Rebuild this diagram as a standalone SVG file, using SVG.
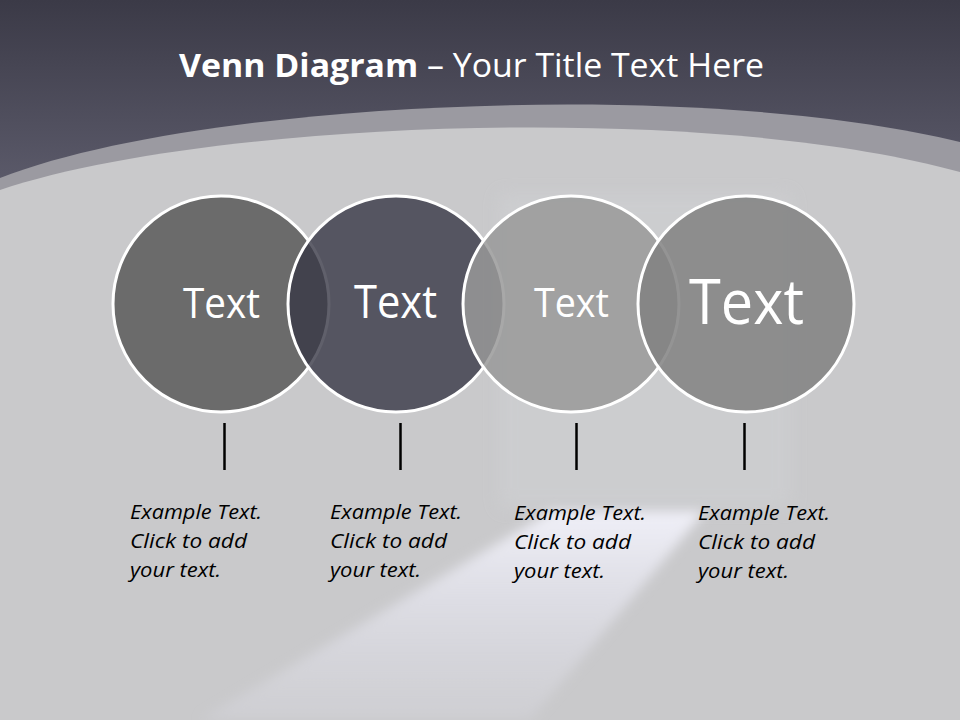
<svg xmlns="http://www.w3.org/2000/svg" width="960" height="720" viewBox="0 0 960 720">
<defs>
<linearGradient id="hdr" gradientUnits="userSpaceOnUse" x1="0" y1="0" x2="0" y2="190">
<stop offset="0" stop-color="#3b3a47"/>
<stop offset="1" stop-color="#5c5b6b"/>
</linearGradient>
<linearGradient id="beam" gradientUnits="userSpaceOnUse" x1="0" y1="510" x2="0" y2="720">
<stop offset="0" stop-color="#f0f0f8" stop-opacity="1"/>
<stop offset="0.45" stop-color="#e0e0e8" stop-opacity="0.85"/>
<stop offset="1" stop-color="#d4d4da" stop-opacity="0.5"/>
</linearGradient>
<filter id="blur" x="-20%" y="-20%" width="140%" height="140%"><feGaussianBlur stdDeviation="6"/></filter>
<filter id="blur2" x="-20%" y="-20%" width="140%" height="140%"><feGaussianBlur stdDeviation="8"/></filter>
<style>
.circ{stroke:#ffffff;stroke-width:3}
.ct{font-family:"Open Sans","Liberation Sans",sans-serif;fill:#ffffff;text-anchor:start}
.bt{font-family:"Open Sans","Liberation Sans",sans-serif;font-style:italic;font-size:20px;fill:#000000}
.stem{stroke:#000000;stroke-width:2.5}
</style>
</defs>
<g id="background">
<rect x="0" y="0" width="960" height="720" fill="url(#hdr)"/>
<path d="M0,178 C200,100 700,78 960,142 L960,720 L0,720 Z" fill="#9b9aa1"/>
<path d="M0,190 C200,122 700,100 960,172 L960,720 L0,720 Z" fill="#c9c9cb"/>
<rect x="500" y="195" width="290" height="312" fill="#cfd0d3" opacity="0.6" filter="url(#blur2)"/>
<polygon points="552,511 705,511 530,720 200,720" fill="url(#beam)" filter="url(#blur)"/>
</g>
<g id="title">
<text x="179" y="77" font-family="Open Sans, Liberation Sans, sans-serif" font-size="32" fill="#ffffff" textLength="585" lengthAdjust="spacingAndGlyphs"><tspan font-weight="bold">Venn Diagram</tspan> – Your Title Text Here</text>
</g>
<g id="node1">
<circle class="circ" cx="221" cy="304" r="108" fill="#6b6b6b"/>
<text class="ct" x="183" y="318" font-size="42" textLength="77" lengthAdjust="spacingAndGlyphs">Text</text>
</g>
<g id="node2">
<circle class="circ" cx="396" cy="304" r="108" fill="#383846" fill-opacity="0.8"/>
<text class="ct" x="354" y="318" font-size="45" textLength="83" lengthAdjust="spacingAndGlyphs">Text</text>
</g>
<g id="node3">
<circle class="circ" cx="571" cy="304" r="108" fill="#999999" fill-opacity="0.85"/>
<text class="ct" x="534" y="317" font-size="41" textLength="75" lengthAdjust="spacingAndGlyphs">Text</text>
</g>
<g id="node4">
<circle class="circ" cx="746" cy="304" r="108" fill="#818181" fill-opacity="0.85"/>
<text class="ct" x="689" y="324" font-size="62" textLength="115" lengthAdjust="spacingAndGlyphs">Text</text>
</g>
<g id="connectors">
<line class="stem" x1="224.5" y1="423" x2="224.5" y2="470"/>
<line class="stem" x1="400.5" y1="423" x2="400.5" y2="470"/>
<line class="stem" x1="576.5" y1="423" x2="576.5" y2="470"/>
<line class="stem" x1="744.5" y1="423" x2="744.5" y2="470"/>
</g>
<g id="text1">
<text class="bt" x="130" y="519" textLength="132" lengthAdjust="spacingAndGlyphs">Example Text.</text>
<text class="bt" x="130" y="548" textLength="117" lengthAdjust="spacingAndGlyphs">Click  to add</text>
<text class="bt" x="130" y="577" textLength="91" lengthAdjust="spacingAndGlyphs">your text.</text>
</g>
<g id="text2">
<text class="bt" x="330" y="519" textLength="132" lengthAdjust="spacingAndGlyphs">Example Text.</text>
<text class="bt" x="330" y="548" textLength="117" lengthAdjust="spacingAndGlyphs">Click  to add</text>
<text class="bt" x="330" y="577" textLength="91" lengthAdjust="spacingAndGlyphs">your text.</text>
</g>
<g id="text3">
<text class="bt" x="514" y="520" textLength="132" lengthAdjust="spacingAndGlyphs">Example Text.</text>
<text class="bt" x="514" y="549" textLength="117" lengthAdjust="spacingAndGlyphs">Click  to add</text>
<text class="bt" x="514" y="578" textLength="91" lengthAdjust="spacingAndGlyphs">your text.</text>
</g>
<g id="text4">
<text class="bt" x="698" y="520" textLength="132" lengthAdjust="spacingAndGlyphs">Example Text.</text>
<text class="bt" x="698" y="549" textLength="117" lengthAdjust="spacingAndGlyphs">Click  to add</text>
<text class="bt" x="698" y="578" textLength="91" lengthAdjust="spacingAndGlyphs">your text.</text>
</g>
</svg>
